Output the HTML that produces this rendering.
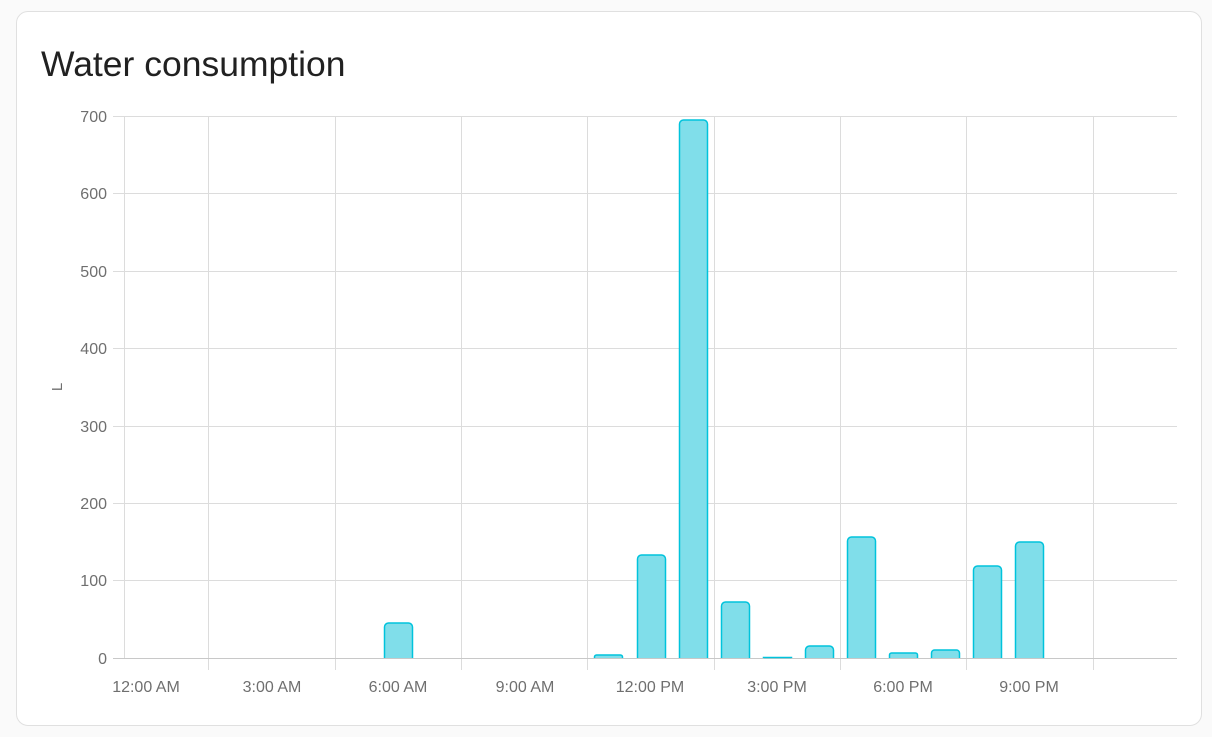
<!DOCTYPE html>
<html><head><meta charset="utf-8"><style>
body{margin:0;background:#fafafa;width:1212px;height:737px;overflow:hidden;font-family:"Liberation Sans",sans-serif}
.card{position:absolute;left:16px;top:11px;width:1184px;height:713px;background:#fff;border:1px solid #e0e0e0;border-radius:12px}
.t{position:absolute;left:41px;top:44px;font-size:35.5px;color:#212121}
svg{position:absolute;left:0;top:0}
</style></head><body>
<div class="card"></div>
<div class="t">Water consumption</div>
<svg width="1212" height="737" font-family="Liberation Sans, sans-serif" font-size="16" fill="#6f6f6f">
<g stroke="#dcdcdc" stroke-width="1">
<line x1="113" x2="1177" y1="116.5" y2="116.5"/><line x1="113" x2="1177" y1="193.5" y2="193.5"/>
<line x1="113" x2="1177" y1="271.5" y2="271.5"/><line x1="113" x2="1177" y1="348.5" y2="348.5"/>
<line x1="113" x2="1177" y1="426.5" y2="426.5"/><line x1="113" x2="1177" y1="503.5" y2="503.5"/>
<line x1="113" x2="1177" y1="580.5" y2="580.5"/>
<line x1="124.5" x2="124.5" y1="116" y2="658"/>
<line x1="208.5" x2="208.5" y1="116" y2="670"/><line x1="335.5" x2="335.5" y1="116" y2="670"/>
<line x1="461.5" x2="461.5" y1="116" y2="670"/><line x1="587.5" x2="587.5" y1="116" y2="670"/>
<line x1="714.5" x2="714.5" y1="116" y2="670"/><line x1="840.5" x2="840.5" y1="116" y2="670"/>
<line x1="966.5" x2="966.5" y1="116" y2="670"/><line x1="1093.5" x2="1093.5" y1="116" y2="670"/>
</g>
<line x1="113" x2="1177" y1="658.5" y2="658.5" stroke="#c8c8c8"/>
<g text-anchor="end">
<text x="107" y="122">700</text><text x="107" y="199">600</text><text x="107" y="277">500</text>
<text x="107" y="354">400</text><text x="107" y="432">300</text><text x="107" y="509">200</text>
<text x="107" y="586">100</text><text x="107" y="664">0</text></g>
<text transform="translate(62,387) rotate(-90)" text-anchor="middle" font-size="15">L</text>
<g text-anchor="middle">
<text x="146" y="692">12:00 AM</text><text x="272" y="692">3:00 AM</text><text x="398" y="692">6:00 AM</text>
<text x="525" y="692">9:00 AM</text><text x="650" y="692">12:00 PM</text><text x="777" y="692">3:00 PM</text>
<text x="903" y="692">6:00 PM</text><text x="1029" y="692">9:00 PM</text></g>
<g fill="#80deea" stroke="#00c3dc" stroke-width="1.5">
<path d="M384.5 658V627a4 4 0 0 1 4-4h20a4 4 0 0 1 4 4V658"/>
<path d="M594.5 658V657a2 2 0 0 1 2-2h24a2 2 0 0 1 2 2V658"/>
<path d="M637.5 658V559a4 4 0 0 1 4-4h20a4 4 0 0 1 4 4V658"/>
<path d="M679.5 658V124a4 4 0 0 1 4-4h20a4 4 0 0 1 4 4V658"/>
<path d="M721.5 658V606a4 4 0 0 1 4-4h20a4 4 0 0 1 4 4V658"/>
<path d="M763.5 658V657.5h28V658"/>
<path d="M805.5 658V650a4 4 0 0 1 4-4h20a4 4 0 0 1 4 4V658"/>
<path d="M847.5 658V541a4 4 0 0 1 4-4h20a4 4 0 0 1 4 4V658"/>
<path d="M889.5 658V655a2 2 0 0 1 2-2h24a2 2 0 0 1 2 2V658"/>
<path d="M931.5 658V653a3 3 0 0 1 3-3h22a3 3 0 0 1 3 3V658"/>
<path d="M973.5 658V570a4 4 0 0 1 4-4h20a4 4 0 0 1 4 4V658"/>
<path d="M1015.5 658V546a4 4 0 0 1 4-4h20a4 4 0 0 1 4 4V658"/>
</g>
</svg>
</body></html>
